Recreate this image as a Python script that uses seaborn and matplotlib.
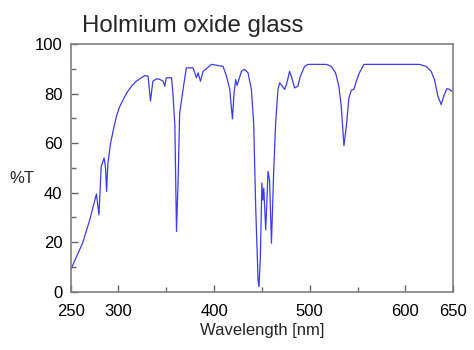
import numpy as np
import pandas as pd
import matplotlib
matplotlib.use("Agg")
import matplotlib.pyplot as plt
import seaborn as sns

# spectrum
wavelength = [250, 256, 262.5, 270, 277, 279.6, 282, 285, 286.5, 287.6, 289, 291.8,
              295, 298, 301, 305, 309, 313.7, 318, 322.4, 327.6, 331, 333.5, 336,
              339.8, 343, 346.7, 348.5, 350, 355.5, 357, 359, 360.7, 362.4, 364,
              367.6, 371, 378, 381.6, 383.3, 385.8, 388.5, 397.3, 409.4, 413, 416.4,
              419.2, 420.9, 422.6, 424, 426, 428.6, 432, 435.5, 439, 441.4, 443.5,
              446, 447, 448.4, 450, 451, 452, 454, 455.3, 456.4, 458, 460, 462.3,
              464.4, 466.8, 468.6, 473.8, 476.2, 479, 481.8, 484.2, 487.7, 490.2,
              494.7, 498.2, 510, 517.4, 522.6, 527, 530.5, 533, 535.8, 538.3, 541,
              543.5, 546.2, 548.7, 552, 556.6, 580, 600, 614.8, 621.8, 627, 630.5,
              634, 637.5, 640.2, 643.4, 646.2, 650]
transmittance = [8.8, 14, 19.6, 29, 39.5, 31, 50.6, 54, 50, 40.5, 52, 60,
                 66, 70.9, 74.5, 77.6, 80.5, 83, 84.8, 86, 87.3, 87, 77, 85,
                 86, 85.8, 85, 83, 86.4, 86.4, 80, 67, 24.3, 45, 72,
                 81.7, 90.4, 90.4, 86.4, 88.4, 85, 89, 91.8, 91, 87, 81.7,
                 69.8, 80.3, 85.7, 83.3, 85.7, 89, 89.8, 88.4, 81.7, 68.2, 34.4,
                 4.7, 2, 14, 43.9, 37, 41.8, 25, 37, 48.6, 45.2, 19.6, 48,
                 68.2, 81.7, 84.4, 81.7, 84.4, 89, 85.7, 82.3, 83, 87,
                 91, 91.8, 91.8, 91.8, 91, 88.4, 83, 74.9, 59, 66.8, 78.3,
                 81.4, 81.7, 85, 88.4, 91.8, 91.8, 91.8, 91.8, 91, 89, 85.7,
                 79, 75.6, 79, 82, 81.7, 80.6]

x_major = [250, 300, 400, 500, 600, 650]
x_minor = [350, 450, 550]
y_major = [0, 20, 40, 60, 80, 100]
y_minor = [10, 30, 50, 70, 90]

df = pd.DataFrame({"Wavelength": wavelength, "T": transmittance})

sns.set_style("white")
plt.rcParams["font.family"] = ["Liberation Sans", "DejaVu Sans"]

fig = plt.figure(figsize=(4.74, 3.5), dpi=100)
ax = fig.add_axes([0.149, 0.1666, 0.807, 0.7074])
sns.lineplot(data=df, x="Wavelength", y="T", color="#3c3cf0", linewidth=0.9, ax=ax)

ax.set_xlim(250, 650)
ax.set_ylim(0, 100)
ax.set_xticks(x_major)
ax.set_xticks(x_minor, minor=True)
ax.set_yticks(y_major)
ax.set_yticks(y_minor, minor=True)
ax.tick_params(which="both", direction="in", bottom=True, left=True,
               colors="#666666", labelcolor="black", labelsize=12)
ax.tick_params(which="major", length=5, width=1)
ax.tick_params(which="minor", length=3.5, width=1)
ax.tick_params(axis="x", pad=9)
ax.tick_params(axis="y", pad=6)
for s in ax.spines.values():
    s.set_color("#808080")
    s.set_linewidth(1.2)

ax.set_xlabel("Wavelength [nm]", fontsize=12, labelpad=3)
ax.set_ylabel("%T", fontsize=12, rotation=0, va="center", ha="center")
ax.yaxis.set_label_coords(-0.127, 0.459)
fig.text(0.172, 0.909, "Holmium oxide glass", fontsize=17.3, ha="left", va="baseline")

fig.savefig("out.png", dpi=100)
